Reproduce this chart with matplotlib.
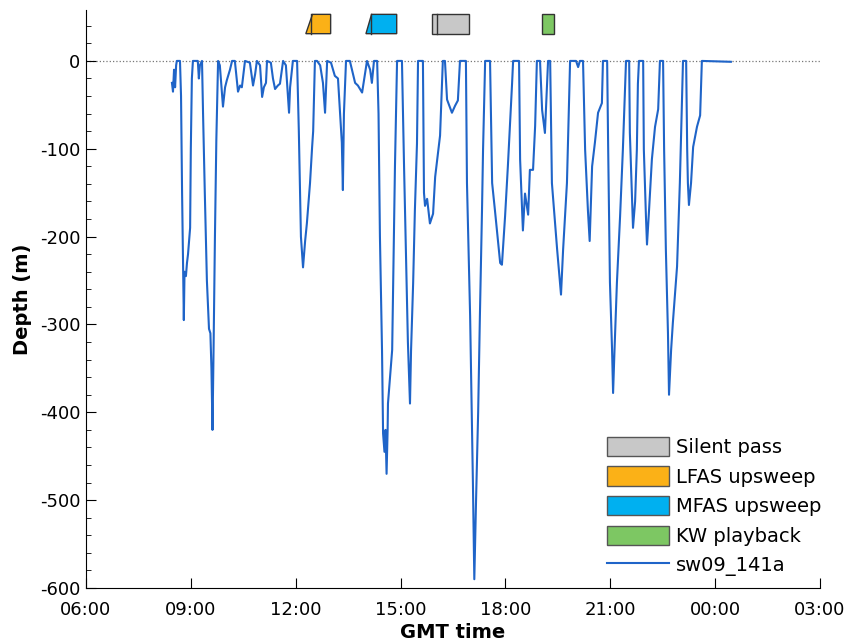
import matplotlib
matplotlib.use("Agg")
import matplotlib.pyplot as plt
from matplotlib.patches import Patch
from matplotlib.lines import Line2D
from matplotlib.ticker import MultipleLocator, FuncFormatter

plt.rcParams['font.family'] = ['DejaVu Sans']
plt.rcParams['axes.unicode_minus'] = False

# dive record: hours since midnight (values > 24 are next day), depth in m
dive_time = [
    8.46, 8.49, 8.52, 8.55, 8.58, 8.60, 8.69, 8.72, 8.75, 8.78, 8.80, 8.82,
    8.86, 8.89, 8.92, 8.98, 9.00, 9.03, 9.06, 9.20, 9.23, 9.26, 9.32, 9.35,
    9.40, 9.46, 9.52, 9.56, 9.59, 9.62, 9.65, 9.69, 9.73, 9.78, 9.83, 9.92,
    9.98, 10.03, 10.12, 10.18, 10.26, 10.35, 10.41, 10.46, 10.55, 10.69,
    10.78, 10.84, 10.89, 10.98, 11.04, 11.09, 11.15, 11.18, 11.29, 11.35,
    11.41, 11.49, 11.55, 11.64, 11.72, 11.81, 11.84, 11.92, 12.04, 12.09,
    12.15, 12.21, 12.27, 12.32, 12.41, 12.47, 12.50, 12.55, 12.61, 12.70,
    12.78, 12.84, 12.90, 13.01, 13.12, 13.21, 13.32, 13.35, 13.38, 13.44,
    13.55, 13.70, 13.78, 13.90, 13.98, 14.04, 14.13, 14.18, 14.24, 14.33,
    14.37, 14.41, 14.47, 14.50, 14.54, 14.57, 14.60, 14.63, 14.64, 14.70,
    14.76, 14.81, 14.84, 14.90, 15.04, 15.10, 15.16, 15.21, 15.27, 15.30,
    15.36, 15.41, 15.47, 15.50, 15.64, 15.67, 15.70, 15.76, 15.84, 15.93,
    15.99, 16.13, 16.21, 16.27, 16.33, 16.47, 16.56, 16.64, 16.70, 16.87,
    16.90, 16.99, 17.07, 17.11, 17.16, 17.22, 17.27, 17.33, 17.36, 17.42,
    17.56, 17.62, 17.70, 17.85, 17.90, 17.99, 18.07, 18.19, 18.22, 18.39,
    18.42, 18.50, 18.56, 18.65, 18.70, 18.79, 18.85, 18.90, 18.99, 19.05,
    19.13, 19.22, 19.28, 19.33, 19.48, 19.56, 19.59, 19.65, 19.76, 19.85,
    20.02, 20.08, 20.13, 20.22, 20.28, 20.36, 20.41, 20.48, 20.56, 20.65,
    20.76, 20.79, 20.91, 20.94, 20.99, 21.05, 21.08, 21.12, 21.19, 21.28,
    21.36, 21.45, 21.54, 21.56, 21.65, 21.71, 21.76, 21.79, 21.82, 21.94,
    21.96, 22.02, 22.05, 22.11, 22.19, 22.28, 22.37, 22.42, 22.51, 22.54,
    22.59, 22.65, 22.68, 22.74, 22.79, 22.91, 22.99, 23.08, 23.17, 23.20,
    23.22, 23.25, 23.31, 23.37, 23.48, 23.57, 23.62, 24.45,
]
dive_depth = [
    -25, -35, -10, -30, -5, 0, 0, -40, -150, -235, -295, -240,
    -245, -230, -220, -190, -100, -20, 0, 0, -20, -5, 0, -60,
    -150, -250, -305, -310, -350, -420, -330, -200, -90, 0, -5, -52,
    -30, -22, -10, 0, 0, -35, -28, -30, 0, -2,
    -28, -15, 0, -5, -41, -30, -25, 0, -2, -20,
    -32, -28, -26, 0, -5, -59, -30, 0, 0, -80,
    -200, -235, -205, -185, -139, -98, -80, 0, 0, -5,
    -25, -59, 0, -2, -17, -20, -93, -147, -60, 0,
    0, -25, -28, -36, -15, 0, -10, -25, 0, 0,
    -60, -200, -330, -424, -445, -420, -470, -420, -390, -360,
    -329, -200, -120, 0, 0, -120, -230, -320, -390, -330,
    -253, -170, -94, 0, 0, -150, -165, -157, -185, -174,
    -132, -85, 0, 0, -44, -59, -51, -45, 0, 0,
    -139, -290, -480, -590, -500, -400, -290, -170, -101, 0,
    0, -139, -170, -230, -232, -177, -120, -26, 0, 0,
    -112, -193, -151, -175, -124, -124, -74, 0, 0, -56,
    -82, 0, 0, -139, -215, -253, -266, -215, -139, 0,
    0, -7, 0, 0, -101, -170, -205, -120, -93, -59,
    -48, 0, 0, -101, -252, -328, -378, -330, -252, -177,
    -101, 0, 0, -82, -190, -160, -101, -26, 0, 0,
    -101, -177, -209, -169, -112, -75, -55, 0, 0, -101,
    -215, -310, -380, -329, -298, -234, -139, 0, 0, -101,
    -139, -164, -139, -98, -75, -62, 0, -1,
]

# exposure periods (hours), drawn as blocks above the surface
exposure_names = ['LFAS upsweep', 'MFAS upsweep', 'Silent pass', 'KW playback']
exposure_colors = ['#fbb117', '#00b0f0', '#c8c8c8', '#7dc763']
ramp_start = [12.29, 14.01, 15.90, 19.04]
ramp_top = [12.48, 14.17, 15.90, 19.04]
full_start = [12.44, 14.15, 16.04, 19.04]
exposure_end = [13.00, 14.89, 16.96, 19.40]
block_low, block_high = 31, 53

legend_order = ['Silent pass', 'LFAS upsweep', 'MFAS upsweep', 'KW playback']
series_name = 'sw09_141a'
line_color = '#1f64c8'

fig = plt.figure(figsize=(8.51, 6.43), dpi=100)
ax = fig.add_axes([0.101, 0.0855, 0.8626, 0.899])

ax.axhline(0, color='#777777', linestyle=':', linewidth=0.9, zorder=1)
ax.plot(dive_time, dive_depth, color=line_color, linewidth=1.5, zorder=3)

for name, col, rs, rt, fs, te in zip(exposure_names, exposure_colors, ramp_start,
                                     ramp_top, full_start, exposure_end):
    ax.fill([rs, rt, te, te], [block_low, block_high, block_high, block_low],
            facecolor=col, edgecolor='#333333', linewidth=1.0, zorder=4)
    if fs > rs:
        ax.plot([fs, fs], [block_low, block_high], color='#333333',
                linewidth=1.0, zorder=5)

ax.set_xlim(6, 27)
ax.set_ylim(-600, 58)
ax.xaxis.set_major_locator(MultipleLocator(3))
ax.xaxis.set_major_formatter(FuncFormatter(lambda h, p: f"{int(round(h)) % 24:02d}:00"))
ax.set_yticks(range(-600, 1, 100))
ax.yaxis.set_minor_locator(MultipleLocator(20))

ax.spines['top'].set_visible(False)
ax.spines['right'].set_visible(False)
ax.tick_params(axis='both', which='major', direction='in', length=7,
               labelsize=13, width=0.8)
ax.tick_params(axis='x', which='major', pad=9)
ax.tick_params(axis='y', which='major', pad=4)
ax.tick_params(axis='y', which='minor', direction='in', length=3.5, width=0.6)

ax.set_ylabel('Depth (m)', fontsize=14, fontweight='bold', labelpad=6)
ax.set_xlabel('GMT time', fontsize=14, fontweight='bold', labelpad=3)

handles = []
for name in legend_order:
    col = exposure_colors[exposure_names.index(name)]
    handles.append(Patch(facecolor=col, edgecolor='#555555', linewidth=1.0, label=name))
handles.append(Line2D([], [], color=line_color, linewidth=1.5, label=series_name))
ax.legend(handles=handles, loc='lower right', bbox_to_anchor=(1.018, 0.0),
          frameon=False, fontsize=14, handlelength=3.2, handleheight=1.15,
          labelspacing=0.48, handletextpad=0.35, borderaxespad=0.2)

fig.savefig('out.png', dpi=100)
